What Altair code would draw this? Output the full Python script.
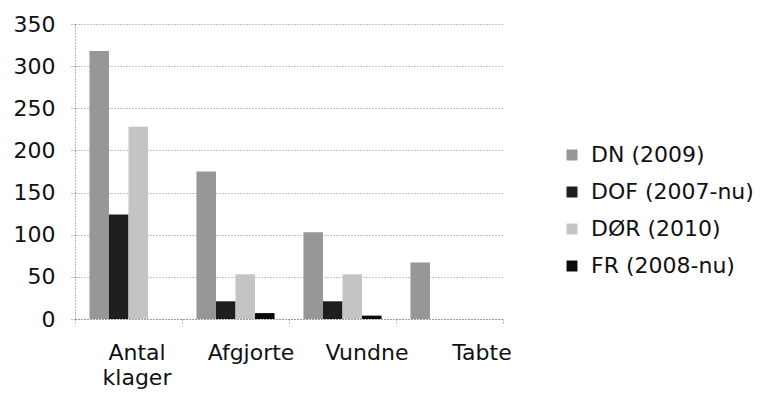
import altair as alt
import pandas as pd

categories = ["Antal klager", "Afgjorte", "Vundne", "Tabte"]
series = ["DN (2009)", "DOF (2007-nu)", "DØR (2010)", "FR (2008-nu)"]
dn = [318, 175, 103, 67]
dof = [124, 21, 21, 0]
dor = [228, 53, 53, 0]
fr = [0, 7, 4, 0]
y_ticks = [0, 50, 100, 150, 200, 250, 300, 350]
colors = ["#979797", "#1e1e1e", "#c4c4c4", "#0a0a0a"]

rows = []
for s, vals in zip(series, [dn, dof, dor, fr]):
    for c, v in zip(categories, vals):
        rows.append({"cat": c, "series": s, "value": v})
df = pd.DataFrame(rows)

FONT = "DejaVu Sans"

label_offset = {
    "condition": [
        {"test": "datum.value == 'Antal klager'", "value": 8},
        {"test": "datum.value == 'Afgjorte'", "value": 15},
        {"test": "datum.value == 'Vundne'", "value": 24},
    ],
    "value": 32,
}

chart = alt.Chart(df).mark_bar().encode(
    x=alt.X("cat:N", sort=categories, title=None,
            scale=alt.Scale(paddingInner=0, paddingOuter=0),
            axis=alt.Axis(labelAngle=0, labelFontSize=22, labelFont=FONT,
                          labelColor="#111", labelExpr="split(datum.label, ' ')",
                          labelLineHeight=25, labelPadding=17, labelBaseline="top",
                          tickBand="extent", tickSize=6, labelOffset=label_offset,
                          grid=False)),
    xOffset=alt.XOffset("series:N", sort=series,
                        scale=alt.Scale(paddingInner=0, paddingOuter=0.74)),
    y=alt.Y("value:Q", title=None,
            scale=alt.Scale(domain=[0, 350], nice=False),
            axis=alt.Axis(values=y_ticks, labelFontSize=22, labelFont=FONT,
                          labelColor="#111", labelPadding=14, tickSize=6,
                          grid=True)),
    color=alt.Color("series:N", sort=series,
                    scale=alt.Scale(domain=series, range=colors),
                    legend=alt.Legend(title=None, orient="none", legendX=486, legendY=120,
                                      symbolType="square", symbolSize=121,
                                      symbolStrokeWidth=0, labelFontSize=22,
                                      labelFont=FONT, labelColor="#111", labelLimit=400,
                                      labelOffset=8, rowPadding=15, padding=0)),
).properties(
    width=428, height=295,
    autosize=alt.AutoSizeParams(type="none"),
    padding={"left": 67, "top": 16, "right": 256, "bottom": 73},
).configure_view(stroke=None).configure_axis(
    domainColor="#777", domainDash=[1, 2], domainWidth=1,
    tickColor="#777", tickDash=[1, 2],
    gridColor="#888", gridDash=[1, 2], gridWidth=1,
)

chart.save("out.html", embed_options={"renderer": "svg", "actions": False})
